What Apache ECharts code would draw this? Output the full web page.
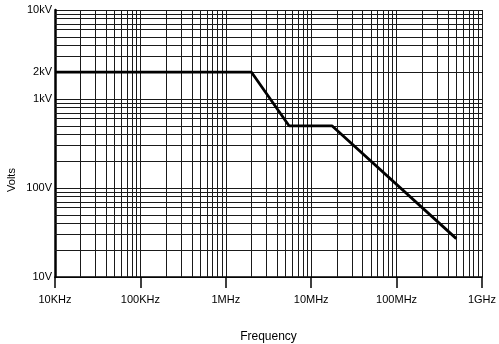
<!DOCTYPE html>
<html><head><meta charset="utf-8">
<script src="https://cdn.jsdelivr.net/npm/echarts@6/dist/echarts.min.js"></script>
<style>html,body{margin:0;padding:0;background:#fff}#c{width:499px;height:344px}</style>
</head><body><div id="c"></div>
<script>
// Data
const freqHz = [10000, 2000000, 5500000, 17500000, 500000000];
const volts  = [2000, 2000, 500, 500, 27];

// Tick labels
const xTickValues = [1e4, 1e5, 1e6, 1e7, 1e8, 1e9];
const xTickLabels = ['10KHz', '100KHz', '1MHz', '10MHz', '100MHz', '1GHz'];
const yTickValues = [10, 100, 1000, 10000];
const yTickLabels = ['10V', '100V', '1kV', '10kV'];
const extraYValue = 2000;
const extraYLabel = '2kV';

// Minor grid
const xDecades = [1e4, 1e5, 1e6, 1e7, 1e8];
const yDecades = [10, 100, 1000];
const minorMultipliers = [2, 3, 4, 5, 6, 7, 8, 9];

function pick(values, labels, v) {
  for (let i = 0; i < values.length; i++) {
    if (Math.abs(Math.log10(v) - Math.log10(values[i])) < 0.01) return labels[i];
  }
  return '';
}

const xMinor = [];
xDecades.forEach(d => minorMultipliers.forEach(m => xMinor.push(d * m)));
const yMinor = [];
yDecades.forEach(d => minorMultipliers.forEach(m => yMinor.push(d * m)));

const lineData = freqHz.map((f, i) => [f, volts[i]]);
const gridColor = '#1a1a1a';
const font = 'Liberation Sans';

const chart = echarts.init(document.getElementById('c'), null, {renderer: 'canvas'});
chart.setOption({
  animation: false,
  backgroundColor: '#fff',
  grid: {left: 55, right: 17, top: 10, bottom: 67, containLabel: false, outerBoundsMode: 'none'},
  xAxis: {
    type: 'log', logBase: 10, min: 1e4, max: 1e9,
    name: 'Frequency', nameLocation: 'middle', nameGap: 54,
    nameTextStyle: {color: '#000', fontSize: 12, fontFamily: font},
    axisLine: {show: true, lineStyle: {color: '#000', width: 1.5}},
    axisTick: {show: true, inside: false, length: 11, lineStyle: {color: '#000', width: 1.5}},
    axisLabel: {color: '#000', fontSize: 11, fontFamily: font, margin: 17,
      formatter: v => pick(xTickValues, xTickLabels, v)},
    splitLine: {show: true, lineStyle: {color: gridColor, width: 1}},
    minorTick: {show: false}, minorSplitLine: {show: false}
  },
  yAxis: {
    type: 'log', logBase: 10, min: 10, max: 10000,
    axisLine: {show: true, lineStyle: {color: '#000', width: 2.5}},
    axisTick: {show: false},
    axisLabel: {color: '#000', fontSize: 11, fontFamily: font, margin: 3,
      formatter: v => pick(yTickValues, yTickLabels, v)},
    splitLine: {show: true, lineStyle: {color: gridColor, width: 1}}
  },
  graphic: [{
    type: 'text', x: 12, y: 180, rotation: Math.PI / 2,
    style: {text: 'Volts', fill: '#000', font: '11px "Liberation Sans"', align: 'center', verticalAlign: 'middle'}
  }],
  series: [
    {
      type: 'line', data: lineData, silent: true, showSymbol: false, symbol: 'none',
      lineStyle: {opacity: 0}, z: 1,
      markLine: {
        silent: true, symbol: 'none', animation: false, label: {show: false},
        lineStyle: {color: gridColor, width: 1, type: 'solid'},
        data: xMinor.map(v => ({xAxis: v})).concat(yMinor.map(v => ({yAxis: v})))
      }
    },
    {
      type: 'line', data: lineData, symbol: 'none', showSymbol: false, z: 5,
      lineStyle: {color: '#000', width: 2.8},
      markLine: {
        silent: true, symbol: 'none', animation: false,
        lineStyle: {color: 'rgba(0,0,0,0)', width: 1},
        label: {show: true, position: 'start', distance: 3, formatter: extraYLabel,
          color: '#000', fontSize: 11, fontFamily: font},
        data: [{yAxis: extraYValue}]
      }
    }
  ]
});
</script></body></html>
